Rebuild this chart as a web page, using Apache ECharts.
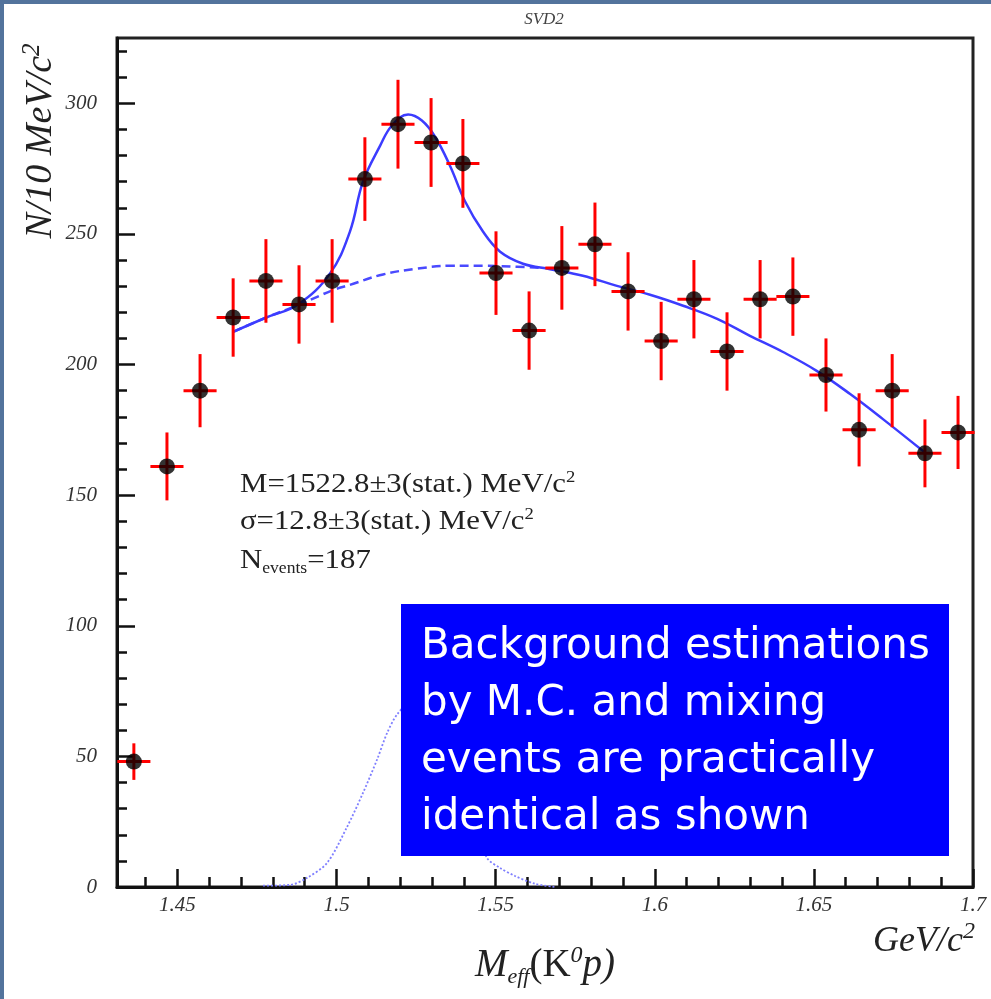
<!DOCTYPE html>
<html>
<head>
<meta charset="utf-8">
<script src="https://cdn.jsdelivr.net/npm/echarts@6/dist/echarts.min.js"></script>
<style>
  html, body { margin: 0; padding: 0; background: #fff; }
  #main { width: 991px; height: 999px; }
</style>
</head>
<body>
<div id="main"></div>
<script>
// bin centres (GeV/c^2), counts per bin and their errors
var binCenters = [1.4363, 1.4467, 1.4571, 1.4675, 1.4778, 1.4882, 1.4986, 1.5089, 1.5193, 1.5297,
                  1.5397, 1.5501, 1.5605, 1.5708, 1.5812, 1.5916, 1.6020, 1.6123, 1.6227, 1.6331,
                  1.6434, 1.6538, 1.6642, 1.6746, 1.6849, 1.6953];
var counts = [48, 161, 190, 218, 232, 223, 232, 271, 292, 285,
              277, 235, 213, 237, 246, 228, 209, 225, 205, 225,
              226, 196, 175, 190, 166, 174];
var countErr = [7, 13, 14, 15, 16, 15, 16, 16, 17, 17,
                17, 16, 15, 16, 16, 15, 15, 15, 15, 15,
                15, 14, 14, 14, 13, 14];
var binHalfWidth = 0.0052;

// fit: signal + background (solid)
var fitX = [1.4675, 1.4779, 1.4879, 1.4979, 1.5042, 1.5083, 1.5137, 1.5174, 1.5225, 1.5268,
            1.5309, 1.5356, 1.5404, 1.5460, 1.5514, 1.5586, 1.5671, 1.5774, 1.5881, 1.5985,
            1.6089, 1.6196, 1.6299, 1.6403, 1.6510, 1.6614, 1.6717, 1.6850];
var fitY = [212.5, 218, 223, 234.8, 250.9, 270, 283.8, 291.5, 295.7, 293.4,
            287.3, 276.2, 262.4, 250.9, 243.2, 238.6, 236.5, 234, 230.1, 226.7,
            222.5, 217.5, 211, 204.8, 197.5, 188.7, 179.1, 166.2];
// background only (dashed)
var bgX = [1.4675, 1.4779, 1.4882, 1.4989, 1.5042, 1.5146, 1.5253, 1.5356, 1.5460, 1.5567, 1.5650];
var bgY = [212.5, 218, 222.9, 228.5, 230.5, 234.5, 236.7, 237.8, 237.8, 237.4, 237];
// signal only (dotted)
var sigX = [1.4769, 1.4854, 1.4907, 1.4970, 1.5033, 1.5083, 1.5127, 1.5159, 1.5190, 1.5228,
            1.5270, 1.5320, 1.5370, 1.5420, 1.5473, 1.5514, 1.5561, 1.5624, 1.5687];
var sigY = [0.5, 0.8, 3.5, 9.2, 23, 36, 48.7, 59, 66, 70,
            67, 58, 45, 28, 11.1, 7.3, 4.2, 1.2, 0];

var xMajorTicks = [1.45, 1.5, 1.55, 1.6, 1.65, 1.7];
var xMinorTicks = [1.44, 1.46, 1.47, 1.48, 1.49, 1.51, 1.52, 1.53, 1.54, 1.56, 1.57, 1.58, 1.59,
                   1.61, 1.62, 1.63, 1.64, 1.66, 1.67, 1.68, 1.69];
var yMajorTicks = [0, 50, 100, 150, 200, 250, 300];
var yMinorTicks = [10, 20, 30, 40, 60, 70, 80, 90, 110, 120, 130, 140, 160, 170, 180, 190,
                   210, 220, 230, 240, 260, 270, 280, 290, 310, 320];

var boxLines = ['Background estimations', 'by M.C. and mixing', 'events are practically', 'identical as shown'];

function pairs(xs, ys) {
	var out = [];
	for (var i = 0; i < xs.length; i++) out.push([xs[i], ys[i]]);
	return out;
}

var serif = '"Liberation Serif", "DejaVu Serif", serif';
var X_MIN = 1.431, X_MAX = 1.7, Y_MIN = 0, Y_MAX = 325;

function renderErr(params, api) {
	var x = api.value(0), y = api.value(1), e = api.value(2);
	var c = api.coord([x, y]);
	var top = api.coord([x, y + e]);
	var bot = api.coord([x, y - e]);
	var l = api.coord([x - binHalfWidth, y]);
	var r = api.coord([x + binHalfWidth, y]);
	var st = { stroke: '#ff0000', lineWidth: 3 };
	return {
		type: 'group',
		children: [
			{ type: 'line', shape: { x1: c[0], y1: top[1], x2: c[0], y2: bot[1] }, style: st },
			{ type: 'line', shape: { x1: l[0], y1: c[1], x2: r[0], y2: c[1] }, style: st }
		]
	};
}

// annotation line with superscript 2
function statLine(txt, y) {
	return {
		type: 'text', z: 100, x: 240, y: y, scaleX: 1.1,
		style: {
			text: '{t|' + txt + '}{s|2}', textVerticalAlign: 'middle', fill: '#222',
			rich: {
				t: { font: '28px ' + serif, fill: '#222', lineHeight: 30, verticalAlign: 'bottom' },
				s: { font: '17px ' + serif, fill: '#222', lineHeight: 30, verticalAlign: 'top' }
			}
		}
	};
}

var myChart = echarts.init(document.getElementById('main'));
var tickStyle = { color: '#111', width: 2.5 };
var option = {
	backgroundColor: '#ffffff',
	animation: false,
	grid: {
		left: 117, right: 18, top: 38, bottom: 112,
		show: true, borderColor: '#222', borderWidth: 3, backgroundColor: '#fff'
	},
	xAxis: [
		{
			type: 'value', min: X_MIN, max: X_MAX, position: 'bottom',
			axisLine: { lineStyle: { color: '#111', width: 3 } },
			axisTick: { inside: true, length: 18, lineStyle: tickStyle, customValues: xMajorTicks },
			axisLabel: {
				customValues: xMajorTicks, margin: 8,
				fontFamily: serif, fontStyle: 'italic', fontSize: 21, color: '#333',
				formatter: function (v) { return String(+v.toFixed(2)); }
			},
			splitLine: { show: false }
		},
		{
			type: 'value', min: X_MIN, max: X_MAX, position: 'bottom',
			axisLine: { show: false },
			axisTick: { inside: true, length: 10, lineStyle: tickStyle, customValues: xMinorTicks },
			axisLabel: { show: false },
			splitLine: { show: false }
		}
	],
	yAxis: [
		{
			type: 'value', min: Y_MIN, max: Y_MAX, position: 'left',
			axisLine: { lineStyle: { color: '#111', width: 3 } },
			axisTick: { inside: true, length: 18, lineStyle: tickStyle, customValues: yMajorTicks },
			axisLabel: {
				customValues: yMajorTicks, margin: 20,
				fontFamily: serif, fontStyle: 'italic', fontSize: 21, color: '#333'
			},
			splitLine: { show: false }
		},
		{
			type: 'value', min: Y_MIN, max: Y_MAX, position: 'left',
			axisLine: { show: false },
			axisTick: { inside: true, length: 10, lineStyle: tickStyle, customValues: yMinorTicks },
			axisLabel: { show: false },
			splitLine: { show: false }
		}
	],
	series: [
		{
			name: 'signal', type: 'line', data: pairs(sigX, sigY), smooth: 0.3,
			showSymbol: false, z: 2,
			lineStyle: { color: '#7f7fff', width: 1.8, type: [2, 2] }
		},
		{
			name: 'background', type: 'line', data: pairs(bgX, bgY), smooth: 0.4,
			showSymbol: false, z: 3,
			lineStyle: { color: '#4a4aff', width: 2.5, type: [9, 5] }
		},
		{
			name: 'fit', type: 'line', data: pairs(fitX, fitY), smooth: 0.4,
			showSymbol: false, z: 4,
			lineStyle: { color: '#3c3cff', width: 2.5 }
		},
		{
			name: 'errors', type: 'custom', renderItem: renderErr, z: 5,
			data: binCenters.map(function (x, i) { return [x, counts[i], countErr[i]]; })
		},
		{
			name: 'data', type: 'scatter', data: pairs(binCenters, counts),
			symbol: 'circle', symbolSize: 16, z: 6,
			itemStyle: { color: '#000' }
		}
	],
	graphic: [
		{ type: 'rect', z: 100, shape: { x: 0, y: 0, width: 991, height: 4 }, style: { fill: '#53739c' } },
		{ type: 'rect', z: 100, shape: { x: 0, y: 0, width: 4, height: 999 }, style: { fill: '#53739c' } },
		{
			type: 'text', z: 100, x: 544, y: 20,
			style: { text: 'SVD2', font: 'italic 17px ' + serif, fill: '#444', textAlign: 'center', textVerticalAlign: 'middle' }
		},
		{
			type: 'text', z: 100, x: 40, y: 141, rotation: Math.PI / 2,
			style: {
				text: '{t|N/10 MeV/c}{s|2}', textAlign: 'center', textVerticalAlign: 'middle', fill: '#222',
				rich: {
					t: { font: 'italic 38px ' + serif, fill: '#222', lineHeight: 40, verticalAlign: 'bottom' },
					s: { font: 'italic 25px ' + serif, fill: '#222', lineHeight: 40, verticalAlign: 'top' }
				}
			}
		},
		{
			type: 'text', z: 100, x: 975, y: 940,
			style: {
				text: '{t|GeV/c}{s|2}', textAlign: 'right', textVerticalAlign: 'middle', fill: '#222',
				rich: {
					t: { font: 'italic 36px ' + serif, fill: '#222', lineHeight: 40, verticalAlign: 'bottom' },
					s: { font: 'italic 24px ' + serif, fill: '#222', lineHeight: 40, verticalAlign: 'top' }
				}
			}
		},
		{
			type: 'text', z: 100, x: 545, y: 966,
			style: {
				text: '{m|M}{sub|eff}{u|(K}{sup|0}{m|p)}', textAlign: 'center', textVerticalAlign: 'middle', fill: '#222',
				rich: {
					m: { font: 'italic 39px ' + serif, fill: '#222', lineHeight: 44, verticalAlign: 'middle' },
					u: { font: '39px ' + serif, fill: '#222', lineHeight: 44, verticalAlign: 'middle' },
					sub: { font: 'italic 22px ' + serif, fill: '#222', lineHeight: 30, verticalAlign: 'bottom' },
					sup: { font: 'italic 24px ' + serif, fill: '#222', lineHeight: 24, verticalAlign: 'top' }
				}
			}
		},
		statLine('M=1522.8±3(stat.) MeV/c', 484),
		statLine('σ=12.8±3(stat.) MeV/c', 521),
		{
			type: 'text', z: 100, x: 240, y: 561, scaleX: 1.1,
			style: {
				text: '{t|N}{b|events}{t|=187}', textVerticalAlign: 'middle', fill: '#222',
				rich: {
					t: { font: '28px ' + serif, fill: '#222', lineHeight: 32, verticalAlign: 'middle' },
					b: { font: '16px ' + serif, fill: '#222', lineHeight: 12, verticalAlign: 'bottom' }
				}
			}
		},
		{
			type: 'rect', z: 110, shape: { x: 401, y: 604, width: 548, height: 252 },
			style: { fill: '#0000fe' }
		},
		{
			type: 'text', z: 111, x: 421, y: 619,
			style: {
				text: boxLines.join('\n'), font: '42px "DejaVu Sans", sans-serif', fill: '#ffffff',
				lineHeight: 57, textShadowColor: '#000', textShadowOffsetX: 2, textShadowOffsetY: 2, textShadowBlur: 0
			}
		}
	]
};
myChart.setOption(option);
</script>
</body>
</html>
